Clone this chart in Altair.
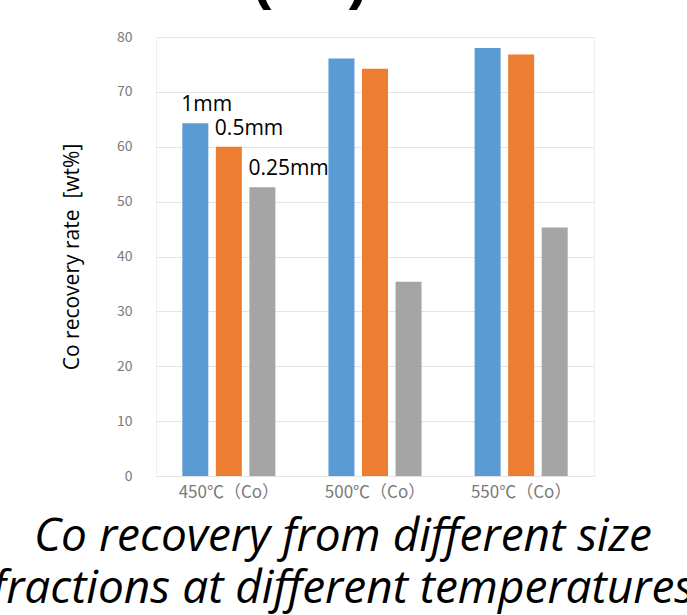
import altair as alt
import pandas as pd

categories = ["450℃（Co）", "500℃（Co）", "550℃（Co）"]
sizes = ["1mm", "0.5mm", "0.25mm"]
val_1mm = [64.3, 76.1, 78.0]
val_05mm = [60.0, 74.2, 76.8]
val_025mm = [52.6, 35.4, 45.3]
colors = ["#5b9bd5", "#ed7d31", "#a5a5a5"]
y_ticks = [0, 10, 20, 30, 40, 50, 60, 70, 80]
caption = ["Co recovery from different size", "fractions at different temperatures"]
y_title = "Co recovery rate \u00a0[wt%]"
top_title = ["(Co)"]

rows = []
for i, c in enumerate(categories):
    for s, vals in zip(sizes, [val_1mm, val_05mm, val_025mm]):
        rows.append({"cat": c, "size": s, "value": vals[i]})
df = pd.DataFrame(rows)
ann = df[df["cat"] == categories[0]].copy()

W, H = 438, 439

xscale = alt.Scale(domain=categories, paddingInner=0.363, paddingOuter=0.18)
xoff = alt.Scale(domain=sizes, paddingInner=0.224, paddingOuter=0)
yscale = alt.Scale(domain=[0, 80], nice=False)

base = alt.Chart(df)

bars = base.mark_bar(size=26).encode(
    x=alt.X("cat:N", scale=xscale, sort=categories,
            axis=alt.Axis(title=None, labelAngle=0, ticks=False, domain=False, grid=False,
                          labelFont="Noto Sans CJK JP", labelFontSize=17,
                          labelColor="#7a7a7a", labelPadding=8)),
    xOffset=alt.XOffset("size:N", scale=xoff, sort=sizes),
    y=alt.Y("value:Q", scale=yscale,
            axis=alt.Axis(values=y_ticks, title=y_title,
                          titleFont="Open Sans", titleFontSize=21, titleFontWeight="normal",
                          titleColor="#000000", titlePadding=34,
                          labelFont="Noto Sans CJK JP", labelFontSize=14, labelColor="#7a7a7a",
                          labelPadding=24, ticks=False, domain=False,
                          gridColor="#e4e4e4", gridWidth=1)),
    color=alt.Color("size:N", scale=alt.Scale(domain=sizes, range=colors), legend=None),
)

labels = alt.Chart(ann).mark_text(align="left", baseline="alphabetic", dx=-14, dy=-12,
                                  font="Open Sans", fontSize=21, color="#000000").encode(
    x=alt.X("cat:N", scale=xscale, sort=categories),
    xOffset=alt.XOffset("size:N", scale=xoff, sort=sizes),
    y=alt.Y("value:Q", scale=yscale),
    text="size:N",
)

cap_df = pd.DataFrame({"t": caption, "yy": [514, 566]})
cap = alt.Chart(cap_df).mark_text(align="center", baseline="alphabetic", font="Open Sans",
                                  fontStyle="italic", fontSize=46, color="#000000").encode(
    x=alt.value(187), y=alt.Y("yy:Q", scale=None), text="t:N")

top_df = pd.DataFrame({"t": top_title})
top = alt.Chart(top_df).mark_text(align="center", baseline="alphabetic", font="Liberation Sans",
                                  fontWeight="bold", fontSize=58, color="#000000").encode(
    x=alt.value(154), y=alt.value(-39), text="t:N")

chart = alt.layer(bars, labels, cap, top).properties(
    width=W, height=H,
    autosize=alt.AutoSizeParams(type="none"),
    padding={"left": 156, "top": 37, "right": 93, "bottom": 139},
).configure(background="#ffffff").configure_view(stroke="#eeeeee")

chart.save("out.html", embed_options={"renderer": "svg", "actions": False})
